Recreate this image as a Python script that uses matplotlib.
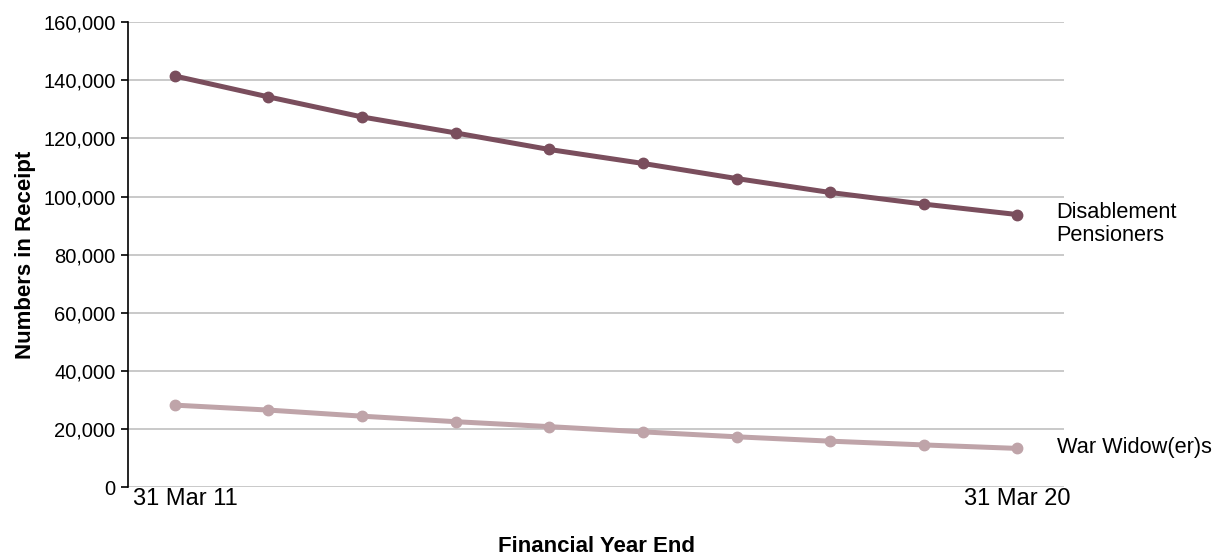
import matplotlib.pyplot as plt
import matplotlib.transforms as mtransforms
from matplotlib.ticker import FuncFormatter

plt.rcParams['font.family'] = ['Liberation Sans', 'DejaVu Sans']

# financial year ends, 31 Mar 2011 .. 31 Mar 2020
years = ['31 Mar 11', '31 Mar 12', '31 Mar 13', '31 Mar 14', '31 Mar 15',
         '31 Mar 16', '31 Mar 17', '31 Mar 18', '31 Mar 19', '31 Mar 20']
disablement = [141500, 134300, 127400, 121900, 116200,
               111400, 106200, 101400, 97400, 93800]
war_widows = [28200, 26500, 24400, 22500, 20800,
              19000, 17300, 15800, 14500, 13300]

dark = '#7a4e5d'
light = '#bfa4a9'

fig = plt.figure(figsize=(12.19, 5.56), dpi=100)
ax = fig.add_axes([0.105, 0.124, 0.768, 0.836])

x = list(range(len(years)))
ax.plot(x, disablement, color=dark, linewidth=3.6, marker='o', markersize=7.5)
ax.plot(x, war_widows, color=light, linewidth=3.6, marker='o', markersize=7.5)

ax.set_ylim(0, 160000)
ax.set_xlim(-0.5, len(years) - 0.5)
ax.set_yticks(range(0, 160001, 20000))
ax.yaxis.set_major_formatter(FuncFormatter(lambda v, p: f'{int(v):,}'))
ax.grid(axis='y', color='#c0c0c0', linewidth=1.2)
ax.set_axisbelow(True)

# only first and last year labelled
ax.set_xticks([0, len(years) - 1])
ax.set_xticklabels([years[0], years[-1]])
ax.tick_params(axis='x', length=0, labelsize=17, pad=1)
ax.tick_params(axis='y', direction='out', length=5, width=1.2, labelsize=14.5, pad=4)
# first label sits a little right of its point in the original
lbl = ax.get_xticklabels()[0]
lbl.set_transform(lbl.get_transform() + mtransforms.ScaledTranslation(0.11, 0, fig.dpi_scale_trans))

for side in ['top', 'right', 'bottom']:
    ax.spines[side].set_visible(False)
ax.spines['left'].set_linewidth(1.2)

ax.set_xlabel('Financial Year End', fontsize=16, fontweight='bold', va='center')
ax.xaxis.set_label_coords(0.5, -0.127)
ax.set_ylabel('Numbers in Receipt', fontsize=16, fontweight='bold', va='center')
ax.yaxis.set_label_coords(-0.110, 0.5)

ax.text(9.42, disablement[-1] - 3300, 'Disablement\nPensioners', fontsize=15.7,
        va='center', ha='left', linespacing=1.1, clip_on=False)
ax.text(9.42, war_widows[-1] + 200, 'War Widow(er)s', fontsize=15.7,
        va='center', ha='left', clip_on=False)

fig.savefig('out.png', dpi=100)
